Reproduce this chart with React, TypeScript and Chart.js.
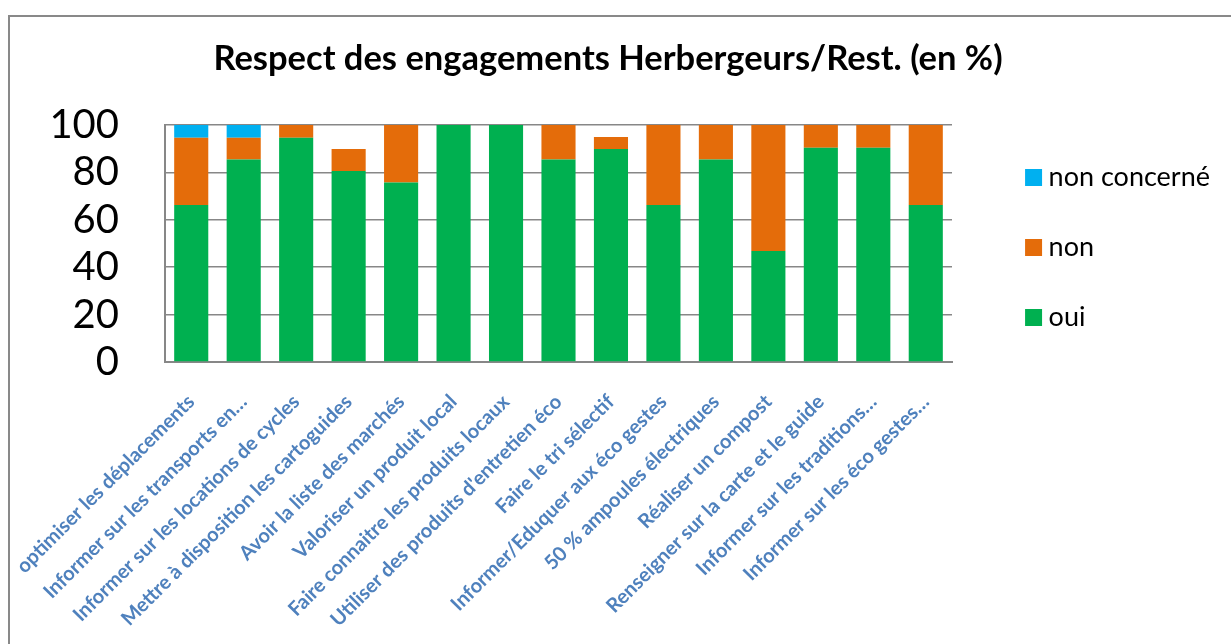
import React, { useEffect, useRef } from 'react';
import { Chart, registerables } from 'chart.js';

Chart.register(...registerables);

const categories: string[] = [
  'optimiser les déplacements',
  'Informer sur les transports en…',
  'Informer sur les locations de cycles',
  'Mettre à disposition les cartoguides',
  'Avoir la liste des marchés',
  'Valoriser un produit local',
  'Faire connaitre les produits locaux',
  "Utiliser des produits d'entretien éco",
  'Faire le tri sélectif',
  'Informer/Eduquer aux éco gestes',
  '50 % ampoules électriques',
  'Réaliser un compost',
  'Renseigner sur la carte et le guide',
  'Informer sur les traditions…',
  'Informer sur les éco gestes…',
];

const oui: number[] = [66.2, 85.4, 94.6, 80.6, 75.7, 100, 100, 85.4, 89.9, 66.2, 85.4, 46.8, 90.4, 90.4, 66.2];
const non: number[] = [28.4, 9.2, 5.4, 9.3, 24.3, 0, 0, 14.6, 5.0, 33.8, 14.6, 53.2, 9.6, 9.6, 33.8];
const nonConcerne: number[] = [5.4, 5.4, 0, 0, 0, 0, 0, 0, 0, 0, 0, 0, 0, 0, 0];

const seriesLabels = ['oui', 'non', 'non concerné'];
const yMin = 0;
const yMax = 100;
const yStep = 20;

const FONT = 'Lato, "Open Sans", sans-serif';

export default function App() {
  const ref = useRef<HTMLCanvasElement | null>(null);

  useEffect(() => {
    if (!ref.current) return;
    const W = 1221;
    const H = 627;
    const PLOT_LEFT = 155;
    const PLOT_RIGHT = 942;
    const PLOT_BOTTOM = 345;
    const PAD_LEFT = -14;
    const PAD_RIGHT = 11;
    const PAD_TOP = -(H - 461);
    const legendFont = 27;
    const grid = '#878787';
    const titleLH = 34.5 * 1.2;
    const titleCenter = 42;
    const titleTopPad = titleCenter - PAD_TOP - titleLH / 2;
    const titleBottomPad = 108 - PAD_TOP - titleTopPad - titleLH;

    const chart = new Chart(ref.current, {
      type: 'bar',
      data: {
        labels: categories,
        datasets: [
          { label: seriesLabels[0], data: oui, backgroundColor: '#00B050', borderWidth: 0 },
          { label: seriesLabels[1], data: non, backgroundColor: '#E46C0A', borderWidth: 0 },
          { label: seriesLabels[2], data: nonConcerne, backgroundColor: '#00B0F0', borderWidth: 0 },
        ],
      },
      options: {
        animation: false,
        responsive: false,
        maintainAspectRatio: false,
        datasets: { bar: { categoryPercentage: 1, barPercentage: 0.65 } },
        layout: { padding: { left: PAD_LEFT, right: PAD_RIGHT, top: PAD_TOP, bottom: 0 } },
        plugins: {
          title: {
            display: true,
            text: 'Respect des engagements Herbergeurs/Rest. (en %)',
            color: '#000',
            font: { family: FONT, size: 34.5, weight: 'bold', lineHeight: 1.2 },
            padding: { top: titleTopPad, bottom: titleBottomPad },
          },
          legend: {
            position: 'right',
            reverse: true,
            maxWidth: 500,
            labels: {
              usePointStyle: true,
              pointStyle: 'rect',
              boxWidth: 3,
              boxHeight: 17,
              padding: 70 - legendFont,
              color: '#000',
              font: { family: FONT, size: legendFont, lineHeight: 1 },
            },
          },
          tooltip: { enabled: false },
        },
        scales: {
          x: {
            stacked: true,
            grid: { display: false },
            border: { display: true, color: grid, width: 2 },
            ticks: {
              autoSkip: false,
              maxRotation: 45,
              minRotation: 45,
              padding: 20,
              labelOffset: 0,
              color: '#4F81BD',
              font: { family: FONT, size: 20, weight: 'bold' },
            },
            afterFit: (s: any) => {
              s.height = H - PLOT_BOTTOM;
              s.paddingLeft = 0;
              s.paddingRight = 0;
            },
          },
          y: {
            stacked: true,
            min: yMin,
            max: yMax,
            ticks: { stepSize: yStep, autoSkip: false, padding: 46, color: '#000', font: { family: FONT, size: 40 } },
            grid: { color: grid, lineWidth: 1.5, drawTicks: false },
            border: { display: true, color: grid, width: 2 },
            afterFit: (s: any) => {
              s.width = PLOT_LEFT - PAD_LEFT;
            },
          },
          y2: {
            type: 'linear',
            position: 'right',
            display: true,
            grid: { display: false },
            border: { display: false },
            ticks: { display: false },
            afterFit: (s: any) => {
              const lw = s.chart.legend ? s.chart.legend.width : 0;
              s.width = Math.max(0, W - PAD_RIGHT - lw - PLOT_RIGHT);
            },
          },
        },
      } as any,
    });
    return () => chart.destroy();
  }, []);

  return (
    <div style={{ position: 'fixed', left: 0, top: 0, right: 0, bottom: 0, overflow: 'hidden', background: '#fff' }}>
      <div
        style={{
          position: 'absolute',
          left: 8,
          top: 15,
          width: 1240,
          height: 660,
          border: '2px solid #898989',
          boxSizing: 'border-box',
          background: '#fff',
        }}
      >
        <canvas ref={ref} width={1221} height={627} style={{ display: 'block', width: 1221, height: 627 }} />
      </div>
    </div>
  );
}
